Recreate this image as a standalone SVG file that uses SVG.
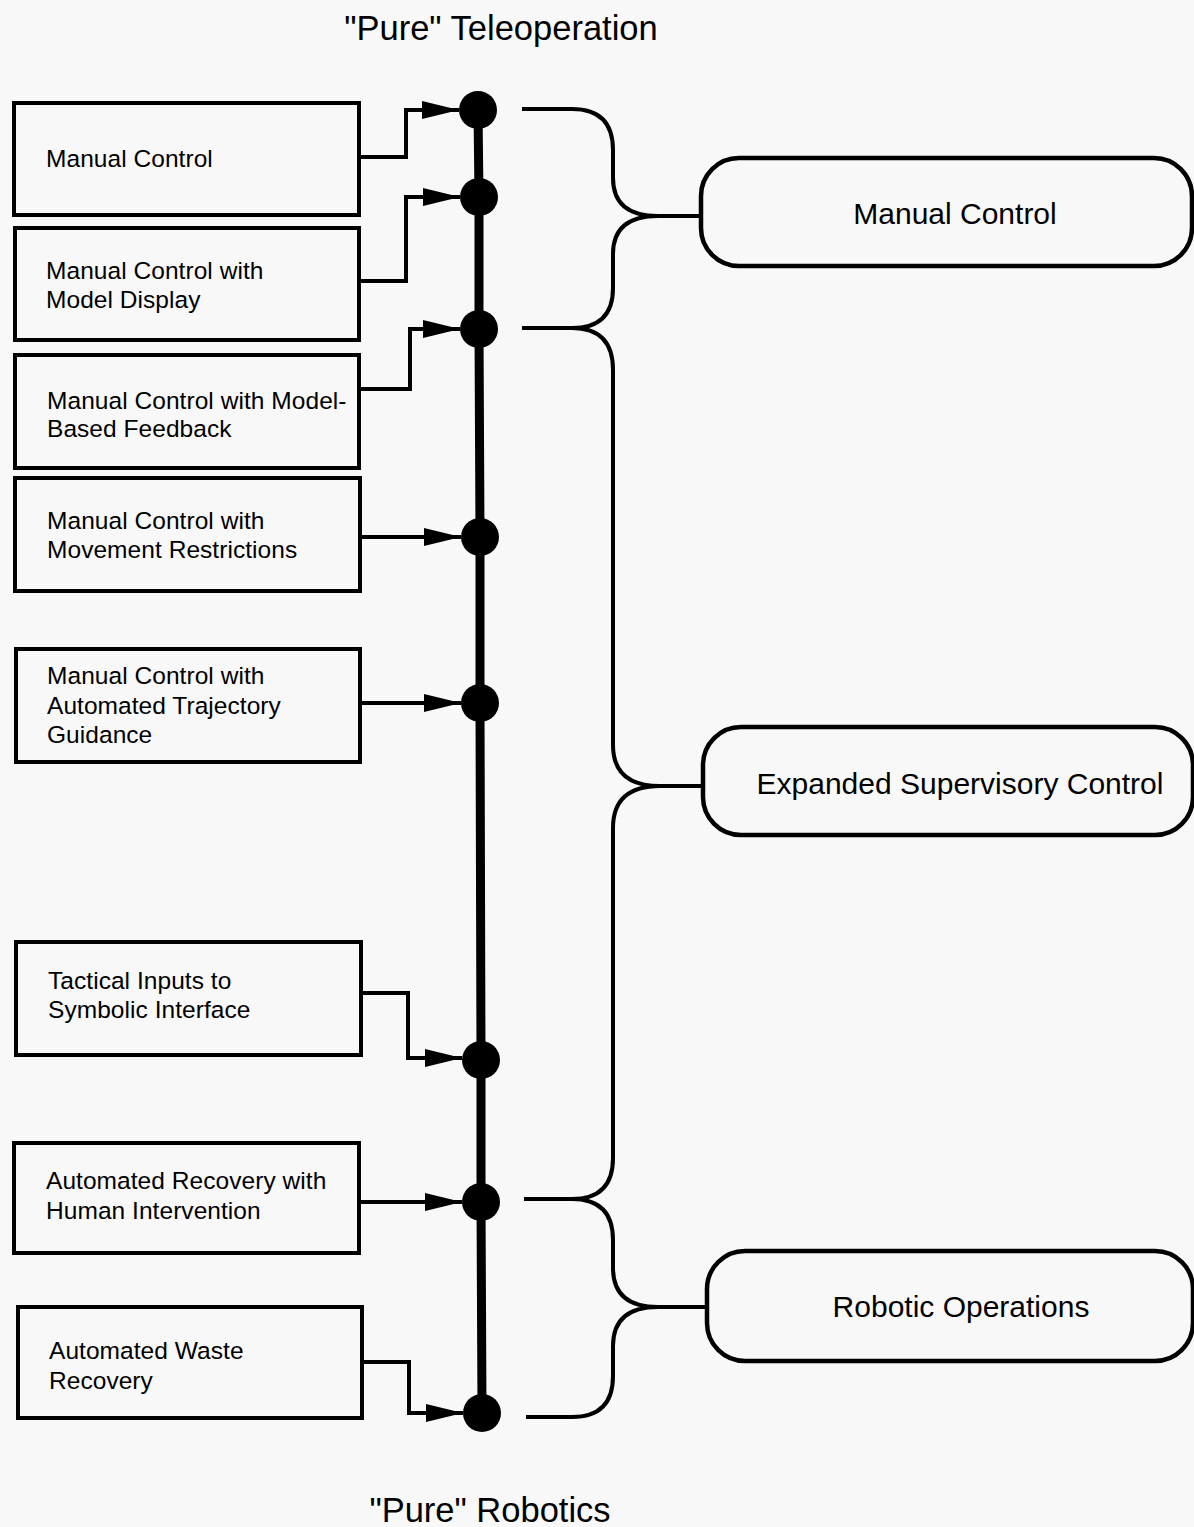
<svg xmlns="http://www.w3.org/2000/svg" width="1194" height="1527" viewBox="0 0 1194 1527">
<style>
.bg{fill:#f8f8f8}
.box{fill:none;stroke:#000;stroke-width:4}
.rbox{fill:none;stroke:#000;stroke-width:4.5}
.lt{font-family:"Liberation Sans",Arial,sans-serif;font-size:24.5px;letter-spacing:0.05px;fill:#000}
.rt{font-family:"Liberation Sans",Arial,sans-serif;font-size:30px;fill:#000;text-anchor:middle}
.tt{font-family:"Liberation Sans",Arial,sans-serif;font-size:34.5px;fill:#000;text-anchor:middle}
.conn{fill:none;stroke:#000;stroke-width:4}
.spine{fill:none;stroke:#000;stroke-width:9}
.dot{fill:#000}
</style>
<defs>
<marker id="arr" markerUnits="userSpaceOnUse" markerWidth="38" markerHeight="20" refX="37" refY="10" orient="auto">
<path d="M0,1 L37,10 L0,19 z" fill="#000"/>
</marker>
</defs>
<rect class="bg" x="0" y="0" width="1194" height="1527"/>
<text class="tt" x="501" y="40">"Pure" Teleoperation</text>
<text class="tt" x="490" y="1522">"Pure" Robotics</text>

<g id="connectors">
<polyline class="spine" points="478,110 479,197 479,329 480,537 480,703 481,1060 481,1202 482,1413"/>
<polyline class="conn" marker-end="url(#arr)" points="359,157 406,157 406,110 459,110"/>
<polyline class="conn" marker-end="url(#arr)" points="359,281 406,281 406,197 460,197"/>
<polyline class="conn" marker-end="url(#arr)" points="359,389 410,389 410,329 460,329"/>
<polyline class="conn" marker-end="url(#arr)" points="360,537 461,537"/>
<polyline class="conn" marker-end="url(#arr)" points="360,703 461,703"/>
<polyline class="conn" marker-end="url(#arr)" points="361,993 408,993 408,1058 462,1058"/>
<polyline class="conn" marker-end="url(#arr)" points="359,1202 462,1202"/>
<polyline class="conn" marker-end="url(#arr)" points="362,1362 409,1362 409,1413 463,1413"/>
<path class="conn" d="M522,109 H572 Q613,109 613,150 V178 Q613,216 658,216 Q613,216 613,254 V288 Q613,328 572,328 H522"/>
<path class="conn" d="M572,328 Q613,328 613,370 V745 Q613,786 660,786 Q613,786 613,828 V1158 Q613,1199 572,1199 H524"/>
<path class="conn" d="M572,1199 Q613,1199 613,1240 V1268 Q613,1307 658,1307 Q613,1307 613,1346 V1376 Q613,1417 572,1417 H526"/>
<line class="conn" x1="656" y1="216" x2="701" y2="216"/>
<line class="conn" x1="658" y1="786" x2="703" y2="786"/>
<line class="conn" x1="656" y1="1307" x2="707" y2="1307"/>
</g>

<g id="n1"><rect class="box" x="14" y="103" width="345" height="112"/><text class="lt" x="46" y="167">Manual Control</text></g>
<g id="n2"><rect class="box" x="15" y="228" width="344" height="112"/><text class="lt" x="46" y="279">Manual Control with</text><text class="lt" x="46" y="308">Model Display</text></g>
<g id="n3"><rect class="box" x="15" y="355" width="344" height="113"/><text class="lt" x="47" y="409">Manual Control with Model-</text><text class="lt" x="47" y="437">Based Feedback</text></g>
<g id="n4"><rect class="box" x="15" y="478" width="345" height="113"/><text class="lt" x="47" y="529">Manual Control with</text><text class="lt" x="47" y="558">Movement Restrictions</text></g>
<g id="n5"><rect class="box" x="16" y="649" width="344" height="113"/><text class="lt" x="47" y="684">Manual Control with</text><text class="lt" x="47" y="714">Automated Trajectory</text><text class="lt" x="47" y="743">Guidance</text></g>
<g id="n6"><rect class="box" x="16" y="942" width="345" height="113"/><text class="lt" x="48" y="989">Tactical Inputs to</text><text class="lt" x="48" y="1018">Symbolic Interface</text></g>
<g id="n7"><rect class="box" x="14" y="1143" width="345" height="110"/><text class="lt" x="46" y="1189">Automated Recovery with</text><text class="lt" x="46" y="1219">Human Intervention</text></g>
<g id="n8"><rect class="box" x="18" y="1307" width="344" height="111"/><text class="lt" x="49" y="1359">Automated Waste</text><text class="lt" x="49" y="1389">Recovery</text></g>

<g id="r1"><rect class="rbox" x="701" y="158" width="491" height="108" rx="38"/><text class="rt" x="955" y="224">Manual Control</text></g>
<g id="r2"><rect class="rbox" x="703" y="727" width="490" height="108" rx="38"/><text class="rt" x="960" y="794">Expanded Supervisory Control</text></g>
<g id="r3"><rect class="rbox" x="707" y="1251" width="486" height="110" rx="38"/><text class="rt" x="961" y="1317">Robotic Operations</text></g>

<g id="dots">
<circle class="dot" cx="478" cy="110" r="19"/>
<circle class="dot" cx="479" cy="197" r="19"/>
<circle class="dot" cx="479" cy="329" r="19"/>
<circle class="dot" cx="480" cy="537" r="19"/>
<circle class="dot" cx="480" cy="703" r="19"/>
<circle class="dot" cx="481" cy="1060" r="19"/>
<circle class="dot" cx="481" cy="1202" r="19"/>
<circle class="dot" cx="482" cy="1413" r="19"/>
</g>
</svg>
